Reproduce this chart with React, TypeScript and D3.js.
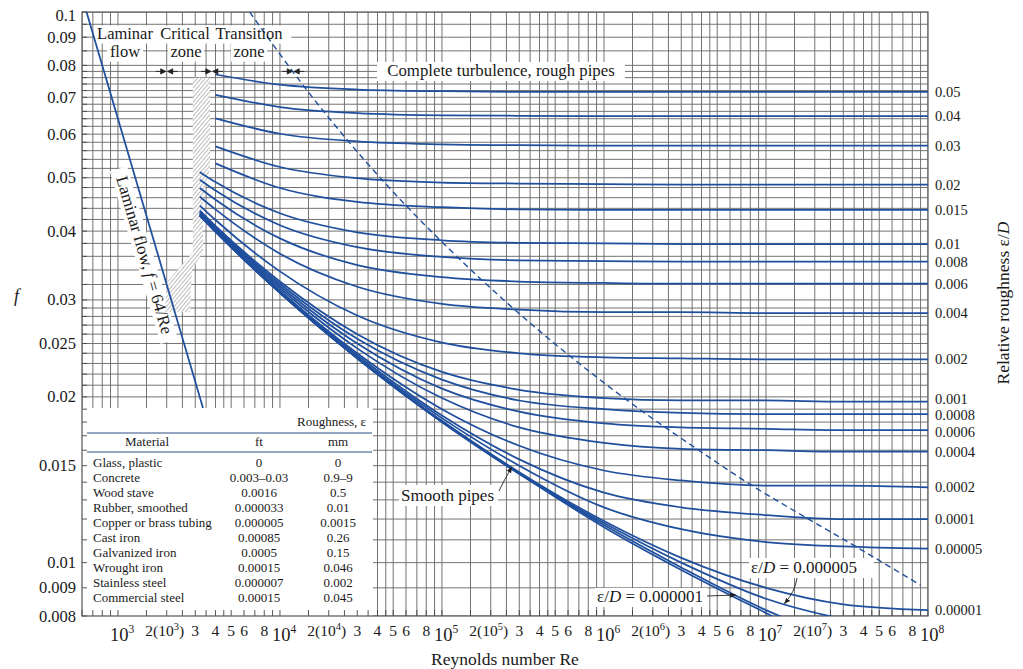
import React from "react";
import * as d3 from "d3";

// ---------- DATA ----------
const RE_POINTS = [3200, 4000, 1e4, 3e4, 1e5, 3e5, 1e6, 3e6, 1e7, 3e7, 1e8];

const F_RD_0_05 = [null, 0.077, 0.0738, 0.0723, 0.0718, 0.0716, 0.0716, 0.0716, 0.0716, 0.0716, 0.0716];
const F_RD_0_04 = [null, 0.0707, 0.0672, 0.0655, 0.0649, 0.0648, 0.0647, 0.0647, 0.0647, 0.0647, 0.0647];
const F_RD_0_03 = [null, 0.0641, 0.0601, 0.0582, 0.0575, 0.0573, 0.0572, 0.0572, 0.0572, 0.0572, 0.0572];
const F_RD_0_02 = [null, 0.057, 0.0523, 0.0499, 0.049, 0.0488, 0.0487, 0.0486, 0.0486, 0.0486, 0.0486];
const F_RD_0_015 = [null, 0.0531, 0.0479, 0.0452, 0.0442, 0.0438, 0.0437, 0.0437, 0.0437, 0.0437, 0.0437];
const F_RD_0_01 = [0.0512, 0.0491, 0.0431, 0.0398, 0.0385, 0.0381, 0.038, 0.0379, 0.0379, 0.0379, 0.0379];
const F_RD_0_008 = [0.0496, 0.0474, 0.041, 0.0374, 0.0359, 0.0354, 0.0353, 0.0352, 0.0352, 0.0352, 0.0352];
const F_RD_0_006 = [0.0479, 0.0456, 0.0388, 0.0347, 0.033, 0.0324, 0.0322, 0.0321, 0.0321, 0.0321, 0.0321];
const F_RD_0_004 = [0.0462, 0.0438, 0.0364, 0.0317, 0.0295, 0.0288, 0.0285, 0.0285, 0.0284, 0.0284, 0.0284];
const F_RD_0_002 = [0.0445, 0.0419, 0.0338, 0.0281, 0.0251, 0.024, 0.0236, 0.0235, 0.0234, 0.0234, 0.0234];
const F_RD_0_001 = [0.0436, 0.0409, 0.0324, 0.026, 0.0222, 0.0206, 0.0199, 0.0197, 0.0197, 0.0196, 0.0196];
const F_RD_0_0008 = [0.0434, 0.0407, 0.0321, 0.0255, 0.0215, 0.0197, 0.019, 0.0187, 0.0186, 0.0186, 0.0186];
const F_RD_0_0006 = [0.0432, 0.0405, 0.0318, 0.025, 0.0207, 0.0188, 0.0179, 0.0176, 0.0175, 0.0174, 0.0174];
const F_RD_0_0004 = [0.043, 0.0403, 0.0315, 0.0245, 0.0199, 0.0176, 0.0165, 0.0161, 0.016, 0.0159, 0.0159];
const F_RD_0_0002 = [0.0429, 0.0401, 0.0312, 0.024, 0.019, 0.0163, 0.0147, 0.0141, 0.0138, 0.0138, 0.0137];
const F_RD_0_0001 = [0.0428, 0.04, 0.031, 0.0238, 0.0185, 0.0154, 0.0134, 0.0126, 0.0122, 0.012, 0.012];
const F_RD_0_00005 = [0.0427, 0.04, 0.031, 0.0236, 0.0183, 0.015, 0.0126, 0.0115, 0.0109, 0.0107, 0.0106];
const F_RD_0_00001 = [0.0427, 0.0399, 0.0309, 0.0235, 0.0181, 0.0146, 0.0119, 0.0102, 0.009, 0.0084, 0.0082];
const F_RD_0_000005 = [0.0427, 0.0399, 0.0309, 0.0235, 0.018, 0.0145, 0.0118, 0.01, 0.0086, 0.0079, 0.0075];
const F_RD_0_000001 = [0.0427, 0.0399, 0.0309, 0.0235, 0.018, 0.0145, 0.0117, 0.0098, 0.0082, 0.0072, 0.0063];
const F_SMOOTH = [0.0427, 0.0399, 0.0309, 0.0235, 0.018, 0.0145, 0.0116, 0.0097, 0.0081, 0.0069, 0.0059];

const RD_LABELS = [
  "0.05", "0.04", "0.03", "0.02", "0.015", "0.01", "0.008", "0.006", "0.004", "0.002",
  "0.001", "0.0008", "0.0006", "0.0004", "0.0002", "0.0001", "0.00005", "0.00001",
];

const LAMINAR_RE = [640, 3350];
const LAMINAR_F = [0.1, 0.0191];

const DASH_RE = [6500, 14950, 45350, 1.03e5, 2.97e5, 6.53e5, 1.43e6, 3.97e6, 8.54e6, 1.83e7, 3.9e7, 9e7];
const DASH_F = [0.1, 0.0716, 0.0486, 0.0379, 0.0284, 0.0234, 0.0196, 0.0159, 0.0137, 0.012, 0.01054, 0.0091];

const HATCH_RE = [2900, 3700, 3700, 3350, 3350, 2860, 2780, 1950, 2000, 2900];
const HATCH_F = [0.076, 0.076, 0.052, 0.046, 0.0366, 0.034, 0.0285, 0.0285, 0.0323, 0.0366];

const Y_TICK_VALUES = [0.1, 0.09, 0.08, 0.07, 0.06, 0.05, 0.04, 0.03, 0.025, 0.02, 0.015, 0.01, 0.009, 0.008];
const Y_TICK_LABELS = ["0.1", "0.09", "0.08", "0.07", "0.06", "0.05", "0.04", "0.03", "0.025", "0.02", "0.015", "0.01", "0.009", "0.008"];

const X_TICK_VALUES = [
  1e3, 2e3, 3e3, 4e3, 5e3, 6e3, 8e3,
  1e4, 2e4, 3e4, 4e4, 5e4, 6e4, 8e4,
  1e5, 2e5, 3e5, 4e5, 5e5, 6e5, 8e5,
  1e6, 2e6, 3e6, 4e6, 5e6, 6e6, 8e6,
  1e7, 2e7, 3e7, 4e7, 5e7, 6e7, 8e7,
  1e8,
];
const X_TICK_LABELS = [
  "10^3", "2(10^3)", "3", "4", "5", "6", "8",
  "10^4", "2(10^4)", "3", "4", "5", "6", "8",
  "10^5", "2(10^5)", "3", "4", "5", "6", "8",
  "10^6", "2(10^6)", "3", "4", "5", "6", "8",
  "10^7", "2(10^7)", "3", "4", "5", "6", "8",
  "10^8",
];

const MATERIALS = ["Glass, plastic", "Concrete", "Wood stave", "Rubber, smoothed", "Copper or brass tubing", "Cast iron", "Galvanized iron", "Wrought iron", "Stainless steel", "Commercial steel"];
const ROUGH_FT = ["0", "0.003–0.03", "0.0016", "0.000033", "0.000005", "0.00085", "0.0005", "0.00015", "0.000007", "0.00015"];
const ROUGH_MM = ["0", "0.9–9", "0.5", "0.01", "0.0015", "0.26", "0.15", "0.046", "0.002", "0.045"];

const SERIES = [
  { label: RD_LABELS[0], f: F_RD_0_05 },
  { label: RD_LABELS[1], f: F_RD_0_04 },
  { label: RD_LABELS[2], f: F_RD_0_03 },
  { label: RD_LABELS[3], f: F_RD_0_02 },
  { label: RD_LABELS[4], f: F_RD_0_015 },
  { label: RD_LABELS[5], f: F_RD_0_01 },
  { label: RD_LABELS[6], f: F_RD_0_008 },
  { label: RD_LABELS[7], f: F_RD_0_006 },
  { label: RD_LABELS[8], f: F_RD_0_004 },
  { label: RD_LABELS[9], f: F_RD_0_002 },
  { label: RD_LABELS[10], f: F_RD_0_001 },
  { label: RD_LABELS[11], f: F_RD_0_0008 },
  { label: RD_LABELS[12], f: F_RD_0_0006 },
  { label: RD_LABELS[13], f: F_RD_0_0004 },
  { label: RD_LABELS[14], f: F_RD_0_0002 },
  { label: RD_LABELS[15], f: F_RD_0_0001 },
  { label: RD_LABELS[16], f: F_RD_0_00005 },
  { label: RD_LABELS[17], f: F_RD_0_00001 },
  { label: null, f: F_RD_0_000005 },
  { label: null, f: F_RD_0_000001 },
  { label: null, f: F_SMOOTH },
];

// ---------- STYLE ----------
const SERIF = "'Liberation Serif','Times New Roman',Times,serif";
const BLUE = "#1f4f9d";
const GRID = "#6c6c6c";
const INK = "#1a1a1a";

function TickLabel({ x, y, label }: { x: number; y: number; label: string }) {
  if (label.startsWith("10^")) {
    const e = label.slice(3);
    return (
      <text x={x - 8} y={y + 5} textAnchor="start" fontFamily={SERIF} fontSize={18.5} fill={INK}>
        10<tspan fontSize={11.5} dy={-8}>{e}</tspan>
      </text>
    );
  }
  if (label.includes("(10^")) {
    const m = label.match(/^(\d)\(10\^(\d)\)$/);
    const a = m ? m[1] : "";
    const e = m ? m[2] : "";
    return (
      <text x={x - 2} y={y} textAnchor="middle" fontFamily={SERIF} fontSize={15.5} fill={INK}>
        {a}(10<tspan fontSize={10.5} dy={-6}>{e}</tspan><tspan dy={6}>)</tspan>
      </text>
    );
  }
  return (
    <text x={x} y={y} textAnchor="middle" fontFamily={SERIF} fontSize={15.5} fill={INK}>
      {label}
    </text>
  );
}

export default function App() {
  const W = 1023;
  const H = 669;
  const x = d3.scaleLog().domain([600, 1e8]).range([82, 928]);
  const y = d3.scaleLog().domain([0.008, 0.1]).range([616, 12]);
  const left = x.range()[0];
  const right = x.range()[1];
  const top = y.range()[1];
  const bottom = y.range()[0];

  // grid values
  const MULTS = [1, 1.5, 2, 2.5, 3, 3.5, 4, 4.5, 5, 6, 7, 8, 9];
  const gridX: number[] = [];
  for (let d = 2; d <= 7; d++) {
    for (const m of MULTS) {
      const v = m * Math.pow(10, d);
      if (v >= 600 && v < 1e8) gridX.push(v);
    }
  }
  gridX.push(1e8);
  const gridF: number[] = [0.1, 0.095, 0.09, 0.085, 0.08];
  for (let k = 78; k >= 30; k -= 2) gridF.push(k / 1000);
  for (let k = 29; k >= 8; k--) gridF.push(k / 1000);

  const lineGen = d3
    .line<[number, number]>()
    .x((d) => x(d[0]))
    .y((d) => y(d[1]))
    .curve(d3.curveMonotoneX);
  const polyGen = d3
    .line<[number, number]>()
    .x((d) => x(d[0]))
    .y((d) => y(d[1]));

  const curves = SERIES.map((s) => {
    const pts = RE_POINTS.map((re, i) => [re, s.f[i]] as [number, number | null]).filter(
      (p) => p[1] != null
    ) as [number, number][];
    return { label: s.label, pts };
  });

  // right labels with simple spacing relaxation
  const RIGHT_FS = 14.5;
  const rightLabels = curves
    .filter((c) => c.label)
    .map((c) => ({ label: c.label as string, yy: y(c.pts[c.pts.length - 1][1]) }));
  const GAP = 16.4;
  for (let it = 0; it < 40; it++) {
    for (let i = 1; i < rightLabels.length; i++) {
      const d = rightLabels[i].yy - rightLabels[i - 1].yy;
      if (d < GAP) {
        const push = (GAP - d) / 2;
        rightLabels[i].yy += push;
        rightLabels[i - 1].yy -= push;
      }
    }
  }

  const dashPts = DASH_RE.map((re, i) => [re, DASH_F[i]] as [number, number]);
  const lamPts = LAMINAR_RE.map((re, i) => [re, LAMINAR_F[i]] as [number, number]);
  const hatchPts = HATCH_RE.map((re, i) => [re, HATCH_F[i]] as [number, number]);

  // laminar text angle
  const lx1 = x(LAMINAR_RE[0]);
  const ly1 = y(LAMINAR_F[0]);
  const lx2 = x(LAMINAR_RE[1]);
  const ly2 = y(LAMINAR_F[1]);
  const lamAngle = (Math.atan2(ly2 - ly1, lx2 - lx1) * 180) / Math.PI;

  // zone boundary arrows
  const arrowY = y(0.078);
  const dx0 = x(DASH_RE[0]);
  const dy0 = y(DASH_F[0]);
  const dx1 = x(DASH_RE[1]);
  const dy1 = y(DASH_F[1]);
  const dashCross = dx0 + ((arrowY - dy0) / (dy1 - dy0)) * (dx1 - dx0);
  const boundaries = [x(2000), x(3800), dashCross];
  const arrowPath = (bx: number, by: number) =>
    `M${bx - 11},${by}L${bx - 4},${by}M${bx + 11},${by}L${bx + 4},${by}` +
    `M${bx - 1},${by}L${bx - 6},${by - 2.6}L${bx - 6},${by + 2.6}Z` +
    `M${bx + 1},${by}L${bx + 6},${by - 2.6}L${bx + 6},${by + 2.6}Z`;

  // white boxes around words
  const CW = 7.8;
  const wordBox = (cx: number, base: number, text: string, fs = 16.5) => {
    const w = text.length * CW * (fs / 16) + 4;
    return <rect key={text + cx + base} x={cx - w / 2} y={base - fs * 0.82} width={w} height={fs * 1.1} fill="#fff" />;
  };

  const topWords: [string, number, number][] = [
    ["Laminar", 125, 39],
    ["flow", 125, 57],
    ["Critical", 185, 39],
    ["zone", 186, 57],
    ["Transition", 249, 39],
    ["zone", 249, 57],
  ];

  // annotation arrow targets (data positions)
  const smoothTgt = [x(2.7e5), y(0.0149)];
  const e5Tgt = [x(1.3e7), y(0.00843)];
  const e1Tgt = [x(6.5e6), y(0.00877)];

  return (
    <svg
      width={W}
      height={H}
      viewBox={`0 0 ${W} ${H}`}
      style={{ position: "absolute", left: 0, top: 0, background: "#fff" }}
    >
      <defs>
        <clipPath id="plotClip">
          <rect x={left} y={top} width={right - left} height={bottom - top} />
        </clipPath>
        <pattern id="hatch" width="3" height="3" patternUnits="userSpaceOnUse" patternTransform="rotate(40)">
          <rect width="3" height="3" fill="#fff" />
          <line x1="0" y1="0" x2="0" y2="3" stroke="#7a7a7a" strokeWidth="1" />
        </pattern>
        <marker id="ah" viewBox="0 0 10 10" refX="9" refY="5" markerWidth="7" markerHeight="7" orient="auto">
          <path d="M0,1L10,5L0,9Z" fill="#222" />
        </marker>
      </defs>
      <rect x={0} y={0} width={W} height={H} fill="#fff" />

      {/* grid */}
      <g clipPath="url(#plotClip)" stroke={GRID} strokeWidth={0.95}>
        {gridX.map((v, i) => (
          <line key={"gx" + i} x1={x(v)} x2={x(v)} y1={top} y2={bottom} />
        ))}
        {gridF.map((v, i) => (
          <line key={"gy" + i} x1={left} x2={right} y1={y(v)} y2={y(v)} />
        ))}
      </g>

      {/* white backgrounds */}
      <rect x={left} y={408} width={373 - left} height={bottom - 408} fill="#fff" />
      {topWords.map(([t, cx, b]) => wordBox(cx, b, t))}
      <rect x={377} y={62} width={248} height={19} fill="#fff" />
      <rect x={399} y={485} width={99} height={21} fill="#fff" />
      <rect x={749} y={558} width={125} height={20} fill="#fff" />
      <rect x={595} y={588} width={112} height={19} fill="#fff" />
      <g transform={`translate(141,256) rotate(${lamAngle})`}>
        <rect x={-90} y={-12} width={180} height={18} fill="#fff" />
      </g>

      {/* ticks */}
      <g stroke="#444" strokeWidth={0.9}>
        {gridF.map((v, i) => (
          <line key={"ty" + i} x1={left} x2={left + 5} y1={y(v)} y2={y(v)} />
        ))}
        {gridX.map((v, i) => (
          <line key={"tx" + i} x1={x(v)} x2={x(v)} y1={bottom} y2={bottom - 6} />
        ))}
      </g>

      {/* frame */}
      <rect x={left} y={top} width={right - left} height={bottom - top} fill="none" stroke="#555" strokeWidth={1.2} />

      {/* hatched critical zone */}
      <path d={polyGen(hatchPts) + "Z"} fill="url(#hatch)" stroke="none" />

      {/* curves */}
      <g clipPath="url(#plotClip)" fill="none" stroke={BLUE} strokeWidth={1.75}>
        {curves.map((c, i) => (
          <path key={"c" + i} d={lineGen(c.pts) || ""} />
        ))}
        <path d={polyGen(lamPts) || ""} />
        <path d={lineGen(dashPts) || ""} strokeDasharray="6,4" strokeWidth={1.4} />
      </g>

      {/* zone arrows */}
      <g fill="#222" stroke="#222" strokeWidth={0.9}>
        {boundaries.map((bx, i) => (
          <path key={"ba" + i} d={arrowPath(bx, arrowY)} />
        ))}
      </g>

      {/* top annotations */}
      <g fontFamily={SERIF} fontSize={16.5} fill={INK} textAnchor="middle">
        {topWords.map(([t, cx, b]) => (
          <text key={"tw" + t + cx + b} x={cx} y={b}>
            {t}
          </text>
        ))}
        <text x={501} y={76} fontSize={16.8}>Complete turbulence, rough pipes</text>
      </g>

      {/* laminar label */}
      <g transform={`translate(141,256) rotate(${lamAngle})`}>
        <text x={0} y={2} textAnchor="middle" fontFamily={SERIF} fontSize={17} fill={INK}>
          Laminar flow, <tspan fontStyle="italic">f</tspan> = 64/Re
        </text>
      </g>

      {/* smooth pipes label */}
      <text x={401} y={501} fontFamily={SERIF} fontSize={17} fill={INK}>
        Smooth pipes
      </text>
      <path
        d={`M499,491Q504,480 ${smoothTgt[0]},${smoothTgt[1]}`}
        fill="none"
        stroke="#222"
        strokeWidth={0.9}
        markerEnd="url(#ah)"
      />

      {/* eps/D labels */}
      <text x={751} y={573} fontFamily={SERIF} fontSize={17} fill={INK}>
        ε/<tspan fontStyle="italic">D</tspan> = 0.000005
      </text>
      <path
        d={`M797,578Q795,592 ${e5Tgt[0]},${e5Tgt[1]}`}
        fill="none"
        stroke="#222"
        strokeWidth={0.9}
        markerEnd="url(#ah)"
      />
      <text x={597} y={602} fontFamily={SERIF} fontSize={17} fill={INK}>
        ε/<tspan fontStyle="italic">D</tspan> = 0.000001
      </text>
      <path
        d={`M707,596L${e1Tgt[0]},${e1Tgt[1] + 1}`}
        fill="none"
        stroke="#222"
        strokeWidth={0.9}
        markerEnd="url(#ah)"
      />

      {/* table */}
      <g fontFamily={SERIF} fontSize={13} fill={INK}>
        <text x={366} y={426} textAnchor="end">
          Roughness, ε
        </text>
        <line x1={87} x2={372} y1={433} y2={433} stroke="#2d4f86" strokeWidth={1.2} />
        <text x={147} y={446} textAnchor="middle">
          Material
        </text>
        <text x={259} y={446} textAnchor="middle">
          ft
        </text>
        <text x={338} y={446} textAnchor="middle">
          mm
        </text>
        <line x1={87} x2={372} y1={452} y2={452} stroke="#2d4f86" strokeWidth={1.2} />
        {MATERIALS.map((m, i) => (
          <g key={"row" + i}>
            <text x={93} y={467 + i * 15}>
              {m}
            </text>
            <text x={259} y={467 + i * 15} textAnchor="middle">
              {ROUGH_FT[i]}
            </text>
            <text x={338} y={467 + i * 15} textAnchor="middle">
              {ROUGH_MM[i]}
            </text>
          </g>
        ))}
      </g>

      {/* left axis labels */}
      <g fontFamily={SERIF} fontSize={16.5} fill={INK} textAnchor="end">
        {Y_TICK_VALUES.map((v, i) => (
          <text key={"yl" + i} x={76} y={Math.max(y(v) + 5.5, 21)}>
            {Y_TICK_LABELS[i]}
          </text>
        ))}
      </g>
      <text x={14} y={302} fontFamily={SERIF} fontSize={18} fontStyle="italic" fill={INK}>
        f
      </text>

      {/* bottom axis labels */}
      {X_TICK_VALUES.map((v, i) => (
        <TickLabel key={"xl" + i} x={x(v)} y={636} label={X_TICK_LABELS[i]} />
      ))}
      <text x={505} y={665} textAnchor="middle" fontFamily={SERIF} fontSize={17.5} fill={INK}>
        Reynolds number Re
      </text>

      {/* right labels */}
      <g fontFamily={SERIF} fontSize={RIGHT_FS} fill={INK}>
        {rightLabels.map((r, i) => (
          <text key={"rl" + i} x={935} y={r.yy + 5}>
            {r.label}
          </text>
        ))}
      </g>
      <text
        transform="translate(1009,303) rotate(-90)"
        textAnchor="middle"
        fontFamily={SERIF}
        fontSize={17.5}
        fill={INK}
      >
        Relative roughness ε/<tspan fontStyle="italic">D</tspan>
      </text>
    </svg>
  );
}
